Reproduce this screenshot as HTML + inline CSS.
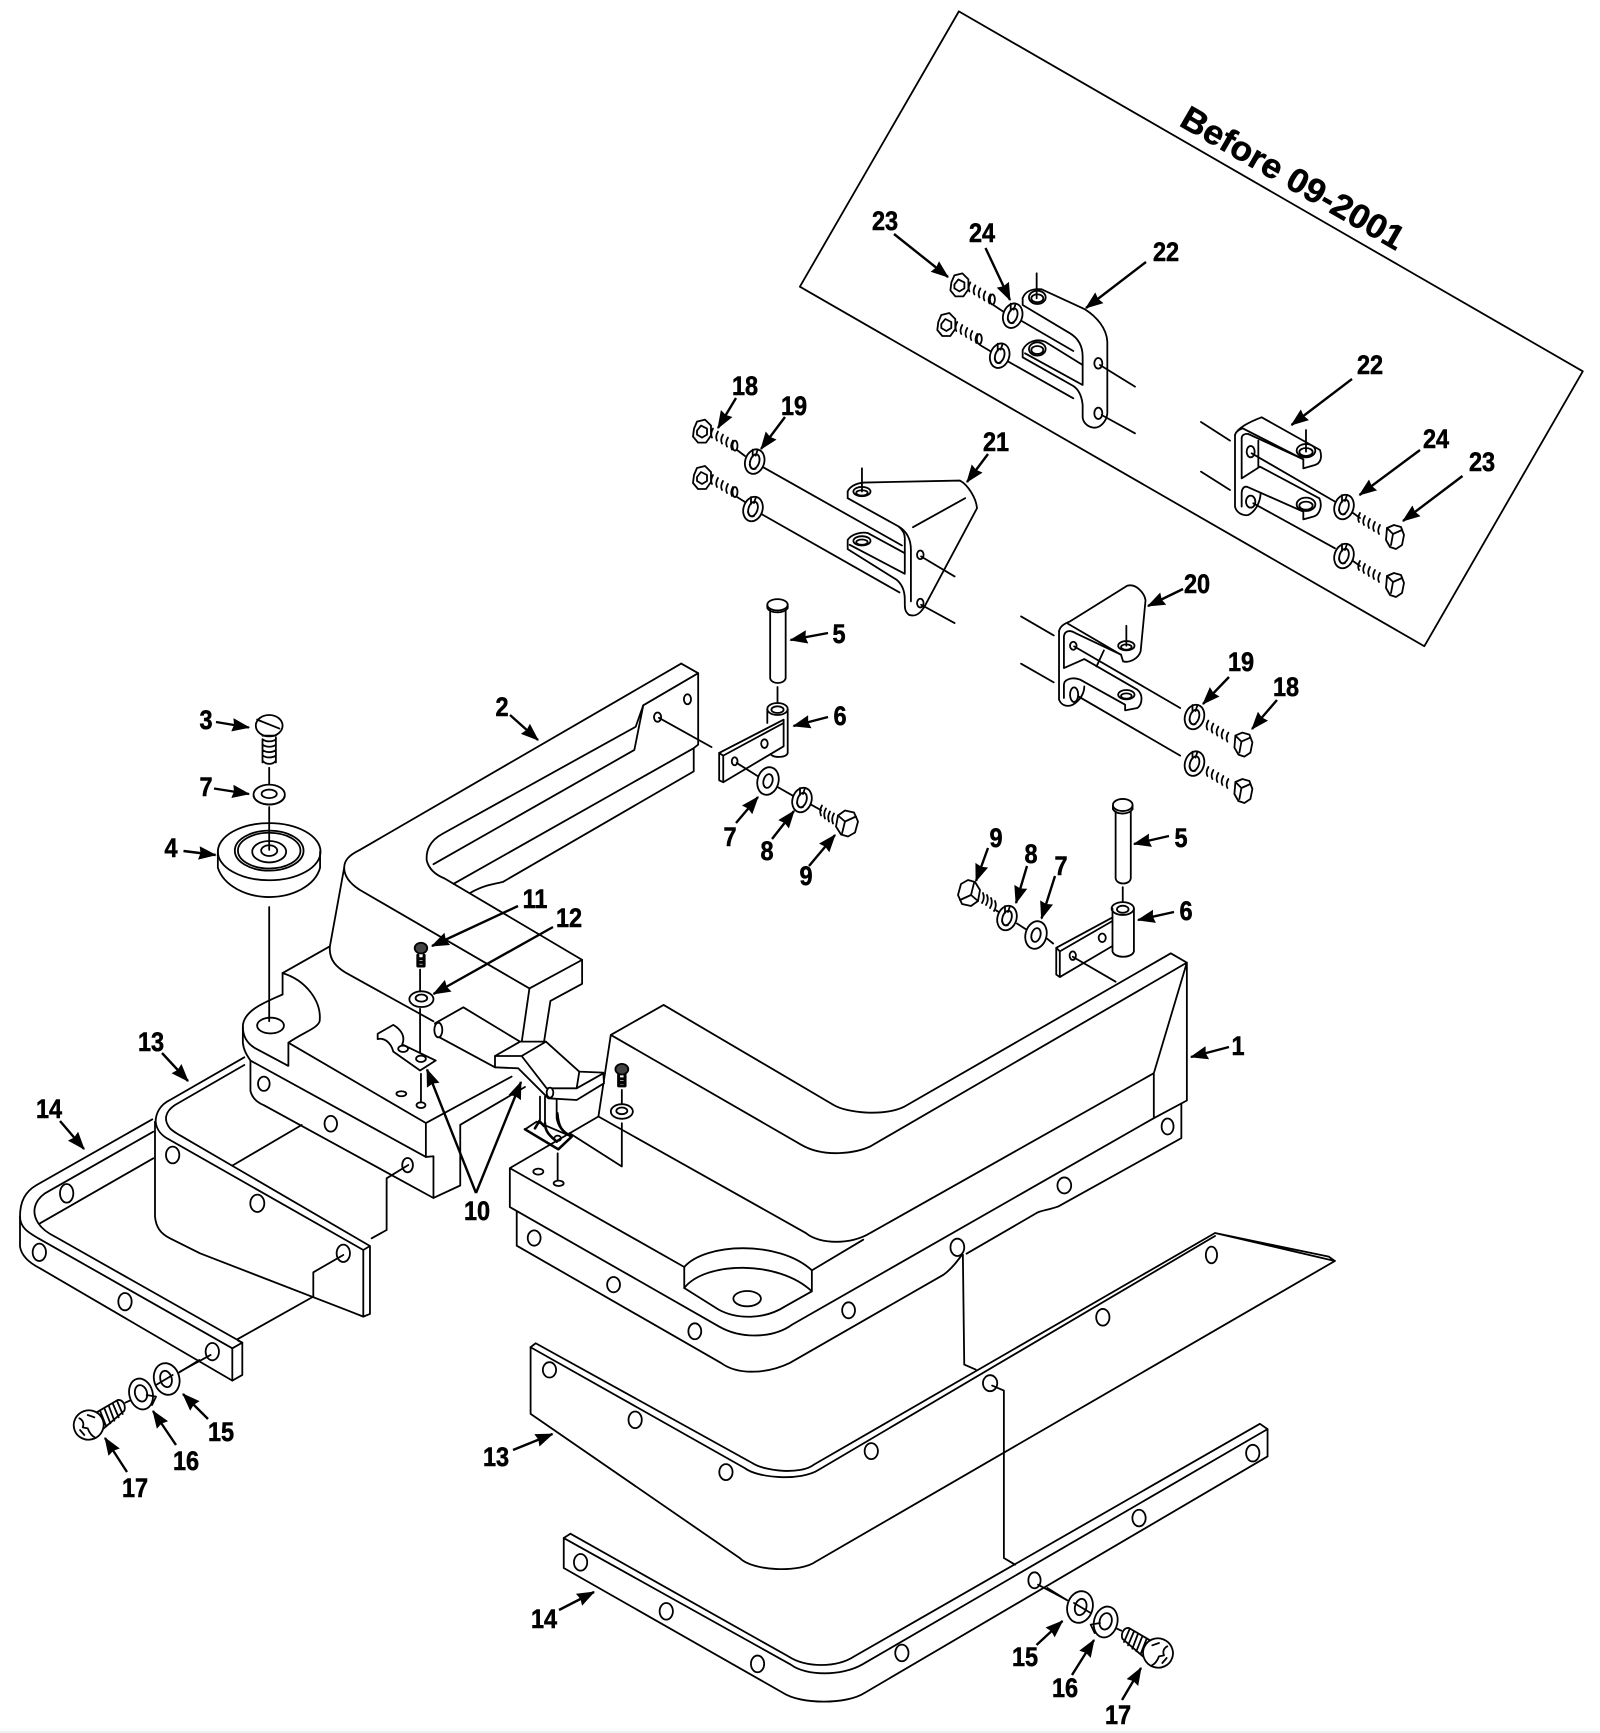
<!DOCTYPE html>
<html><head><meta charset="utf-8"><style>
html,body{margin:0;padding:0;background:#fff}
svg{display:block}
svg *{vector-effect:non-scaling-stroke}
.d{fill:none;stroke:#000;stroke-width:1.8;stroke-linejoin:round;stroke-linecap:round}
.w{fill:#fff}
.k{fill:#444}
.a{fill:none;stroke:#000;stroke-width:2.4;stroke-linecap:butt;marker-end:url(#h)}
text{font-family:"Liberation Sans",sans-serif;font-weight:bold;font-size:27px;text-anchor:middle;fill:#000;stroke:#000;stroke-width:.5}
</style></head><body>
<svg width="1600" height="1733" viewBox="0 0 1600 1733" xmlns="http://www.w3.org/2000/svg">
<defs>
<marker id="h" markerUnits="userSpaceOnUse" markerWidth="18" markerHeight="14" refX="15" refY="6" orient="auto" viewBox="0 0 16 12"><path d="M0,0L16,6L0,12L1.5,6Z" fill="#000"/></marker>
<g id="bL"><path class="w" d="M-8,-3L-5,-10L3,-12L9,-6L9,4L4,11L-4,11L-9,5Z"/><path d="M-5,-1L-1,-6L5,-3L5,3L0,6L-5,3Z"/><path d="M11,-3q-3,5 -1,9M16,0q-3,5 -1,9M21,3q-3,5 -1,9M26,6q-3,5 -1,9M31,9q-3,5 -1,9"/><ellipse cx="33" cy="14" rx="2.5" ry="5"/></g>
<g id="bR"><path d="M-35,-24q-3,5 -1,9M-30,-21q-3,5 -1,9M-25,-18q-3,5 -1,9M-20,-15q-3,5 -1,9M-15,-12q-3,5 -1,9"/><path class="w" d="M-8,-9L-1,-12L6,-10L9,-2L7,8L1,12L-5,10L-9,3Z"/><path d="M-8,-9L-2,-3L-4,8M-2,-3L7,-7"/></g>
<g id="bB"><path d="M-25,-18q-3,5 -1,10M-21,-15q-3,5 -1,10M-17,-12q-3,5 -1,10M-13,-10q-3,5 -1,10"/><path class="w" d="M-9,-8L-2,-13L7,-11L11,-2L8,9L1,13L-6,11L-11,3Z"/><path d="M-9,-8L-2,-2L-5,10M-2,-2L9,-7"/></g>
<g id="lock"><ellipse class="w" rx="9.5" ry="12.5" transform="rotate(18)"/><ellipse rx="4.5" ry="7.5" transform="rotate(18)"/><path d="M-2,-12L-2,-5M3,-12L1,-6M-5,3q2,6 6,4"/></g>
<g id="flat"><ellipse class="w" rx="10.5" ry="14" transform="rotate(15)"/><ellipse rx="4.5" ry="7" transform="rotate(15)"/></g>
<g id="scr"><g transform="translate(-88,-255)">
<path d="M198,188L215,180M360,97L420,60"/>
<path class="w" d="M110,218L175,180C190,178 200,195 195,212L130,268Z"/>
<path d="M122,212L140,258M135,205L153,250M148,197L165,242M160,190L178,232M173,183L190,222"/>
<ellipse class="w" cx="88" cy="255" rx="45" ry="44" transform="rotate(-20 88 255)"/>
<path d="M60,235C70,240 75,250 70,262L85,265C90,280 100,290 108,293M62,270L75,285M85,225L105,232"/>
<ellipse class="w" cx="245" cy="162" rx="35" ry="47" transform="rotate(-15 245 162)"/>
<ellipse cx="245" cy="160" rx="18" ry="25" transform="rotate(-15 245 160)"/>
<path d="M262,165L290,170L278,195"/>
<ellipse class="w" cx="322" cy="117" rx="38" ry="48" transform="rotate(-15 322 117)"/>
<ellipse cx="320" cy="117" rx="17" ry="25" transform="rotate(-15 320 117)"/>
<path d="M290,135L340,105"/>
</g></g>
</defs>
<rect width="1600" height="1733" fill="#fff"/>
<rect y="1731" width="1600" height="2" fill="#f0f0f0"/>
<g class="d">

<!-- inset frame -->
<g transform="translate(780,0) scale(.523,.421)">
<path d="M342,27L1535,882L1232,1535L38,681Z"/>
</g>
<!-- bracket 22 left -->
<g transform="translate(930,270) scale(.3333)">
<path d="M278,85C285,65 305,55 335,58L465,118C500,140 530,175 532,215L532,430C530,455 510,475 490,473C470,470 458,455 458,440L458,405C455,375 445,358 430,348L278,262L278,240C290,215 320,205 345,215L458,285"/>
<path d="M278,85L278,105L420,190C445,205 458,230 458,260L458,345L285,250"/>
<path d="M270,150L430,243M230,272L430,385M510,285L615,350M515,435L615,490M320,10L320,85M190,105L220,125M150,225L180,243"/>
<ellipse cx="322" cy="82" rx="25" ry="20"/><ellipse cx="322" cy="85" rx="18" ry="12"/>
<ellipse cx="322" cy="237" rx="25" ry="20"/><ellipse cx="322" cy="240" rx="18" ry="12"/>
<ellipse cx="505" cy="280" rx="12" ry="16"/><ellipse cx="505" cy="430" rx="12" ry="17"/>
</g>
<!-- bracket 22 right -->
<g transform="translate(1220,410) scale(.3333)">
<path d="M125,22L300,120C308,145 300,160 285,165L250,175L250,148L68,55C55,60 47,66 45,75C50,55 90,35 125,22"/>
<path d="M45,75L45,290C50,310 70,318 85,315C105,305 120,280 122,250"/>
<path d="M65,205L65,85C65,75 75,70 85,72L250,148M65,205L120,170L298,265C308,285 300,315 280,320L250,328L250,305L85,232C70,225 65,240 65,250L65,290M115,92L115,172"/>
<path d="M95,130L345,275M100,280L345,415M258,60L258,125M-57,36L30,92M-57,185L30,240"/>
<ellipse cx="258" cy="122" rx="28" ry="20"/><ellipse cx="258" cy="126" rx="20" ry="12"/>
<ellipse cx="258" cy="283" rx="28" ry="20"/><ellipse cx="258" cy="287" rx="20" ry="12"/>
<ellipse cx="92" cy="125" rx="12" ry="17"/><ellipse cx="92" cy="275" rx="14" ry="18"/>
</g>
<use href="#bL" x="959.4" y="285.4"/><use href="#lock" x="1012.7" y="315.7"/>
<use href="#bL" x="946.3" y="325"/><use href="#lock" x="999.7" y="355.7"/>
<use href="#lock" x="1344" y="507"/><use href="#bR" x="1395" y="537"/>
<use href="#lock" x="1344" y="556"/><use href="#bR" x="1395" y="585"/>
<path d="M1353,513L1360,518M1353,561L1360,566"/>

<!-- brackets 21 / 20, pin, hinge upper -->
<g transform="translate(660,370) scale(.408,.333)">
<path d="M460,365C465,350 480,340 500,338L735,332C755,345 775,385 777,415L655,695C640,735 625,742 610,735C600,725 600,715 600,700L600,690C600,665 595,645 580,630L460,538L460,510C470,492 495,485 510,490L600,550"/>
<path d="M460,365L460,385L585,470C605,485 615,510 615,540L615,695"/>
<path d="M600,505L600,612L465,525M585,470C595,480 600,490 600,505"/>
<path d="M620,472L748,385M495,295L495,365M640,560L722,620M640,705L722,760"/>
<path d="M250,290L593,527M245,430L587,668"/>
<ellipse cx="495" cy="365" rx="21" ry="14"/><ellipse cx="495" cy="369" rx="14" ry="8"/>
<ellipse cx="495" cy="513" rx="21" ry="14"/><ellipse cx="495" cy="517" rx="14" ry="8"/>
<ellipse cx="638" cy="555" rx="8" ry="13"/><ellipse cx="638" cy="700" rx="8" ry="13"/>
<path d="M978,785C980,770 990,762 1005,755L1145,648C1168,640 1188,672 1190,692L1178,845C1172,868 1150,880 1135,875L1130,855L1000,762"/>
<path d="M978,785L978,990C985,1010 1000,1012 1012,1005C1030,992 1040,970 1040,950"/>
<path d="M990,895L990,800C992,782 1005,780 1018,790L1130,855M990,895L1040,868L1170,960C1185,975 1182,1005 1170,1015L1140,1022L1140,1005L1030,930C1010,920 990,930 990,945L990,985"/>
<path d="M1143,768L1143,828M1088,842L1070,890M885,740L965,797M885,882L965,938M1015,830L1275,1015M1025,980L1275,1158"/>
<ellipse cx="1143" cy="828" rx="20" ry="14"/><ellipse cx="1143" cy="832" rx="13" ry="8"/>
<ellipse cx="1143" cy="975" rx="20" ry="14"/><ellipse cx="1143" cy="979" rx="13" ry="8"/>
<ellipse cx="1013" cy="828" rx="8" ry="12"/><ellipse cx="1015" cy="975" rx="10" ry="22"/>
<path class="w" d="M270,722L270,925C272,945 305,945 308,925L308,722"/>
<ellipse class="w" cx="288" cy="705" rx="25" ry="17"/><path d="M263,705L263,715C270,732 305,732 313,715L313,705"/>
<path d="M288,952L288,1000"/>
<path d="M263,1018L263,1060M313,1018L313,1150C310,1165 280,1165 272,1155"/>
<ellipse cx="288" cy="1018" rx="25" ry="18"/><ellipse cx="288" cy="1020" rx="15" ry="10"/>
<path class="w" d="M145,1150L303,1050L303,1130L155,1238L145,1232Z"/><path d="M145,1150L155,1158L303,1060M155,1158L155,1238"/>
<ellipse cx="183" cy="1175" rx="7" ry="12"/><ellipse cx="256" cy="1122" rx="8" ry="13"/>
<path d="M188,1180L240,1220M285,1250L325,1278M370,1305L395,1322"/>
</g>
<use href="#bL" x="702" y="431.6"/><use href="#lock" x="754.7" y="461.6"/>
<use href="#bL" x="702" y="478"/><use href="#lock" x="753" y="509"/>
<path d="M737,450L745,456M737,497L745,502"/>
<use href="#lock" x="1194.5" y="717"/><use href="#bR" x="1243.4" y="744.6"/>
<use href="#lock" x="1194.5" y="763.6"/><use href="#bR" x="1243.4" y="791"/>
<use href="#flat" x="768" y="781"/><use href="#lock" x="802" y="800"/><use href="#bB" x="847" y="823.5"/>

<!-- Part 2 -->
<g transform="translate(150,650) scale(.4464,.357)">
<path d="M1190,38L1228,65L1228,265L1218,275L1218,340L790,650C770,655 745,660 718,680"/>
<path d="M1190,38L470,560C445,575 435,590 435,610C435,640 455,660 470,672L850,948L968,868L968,935L897,983L883,1095"/>
<path d="M1228,65L1105,155L1088,215L655,515C625,535 618,565 620,590C625,615 640,630 660,640L968,868"/>
<path d="M1105,155L1085,280L635,600M1218,275L680,655M850,948L833,1095"/>
<ellipse cx="1137" cy="188" rx="8" ry="13"/><ellipse cx="1204" cy="138" rx="8" ry="14"/>
<path d="M1140,190L1258,272"/>
<path d="M435,610L403,830C400,870 420,890 440,905L635,1040M403,830L297,905L297,965"/>
<path d="M297,905C350,925 385,985 380,1040C375,1060 345,1070 310,1100L310,1165L235,1115C215,1100 208,1080 208,1055C208,1010 260,985 297,965"/>
<path d="M208,1055L208,1100C210,1125 220,1140 225,1150L618,1420L635,1418L635,1535L695,1500L695,1330L840,1224"/>
<path d="M310,1100L618,1325L618,1420M618,1325L810,1195"/>
<path d="M225,1150L225,1235C230,1260 245,1270 255,1275L635,1535"/>
<ellipse cx="255" cy="1215" rx="13" ry="20"/><ellipse cx="405" cy="1327" rx="14" ry="22"/><ellipse cx="577" cy="1443" rx="12" ry="20"/>
<ellipse cx="270" cy="1052" rx="30" ry="22"/>
<path d="M267,720L267,1040"/>
<ellipse cx="563" cy="1243" rx="11" ry="7"/><ellipse cx="607" cy="1275" rx="10" ry="8"/>
<path d="M152,565L152,610C165,660 215,692 267,692C320,692 370,660 381,610L381,565"/>
<ellipse cx="267" cy="565" rx="115" ry="80"/>
<ellipse cx="267" cy="562" rx="77" ry="56"/><ellipse cx="267" cy="562" rx="70" ry="50"/><ellipse cx="267" cy="565" rx="38" ry="30"/><ellipse cx="267" cy="562" rx="18" ry="15"/>
<path d="M267,330L267,390M267,440L267,560"/>
<ellipse class="w" cx="267" cy="212" rx="30" ry="30"/><path d="M240,195L290,220M252,240L282,240"/>
<path d="M252,250C260,258 275,258 282,250M252,265C260,273 275,273 282,265M252,280C260,288 275,288 282,280M252,295C260,303 275,303 282,295M252,310C260,322 275,322 282,310M252,250L252,315M282,245L282,315"/>
<ellipse class="w" cx="267" cy="405" rx="35" ry="28"/><ellipse cx="267" cy="403" rx="17" ry="12"/><path d="M232,410C240,440 295,440 302,410"/>
<path d="M605,895L605,960M605,1005L605,1130M607,1187L607,1265"/>
<ellipse class="k" cx="607" cy="835" rx="14" ry="15"/>
<path stroke-width="3" d="M600,855L600,885L614,885L614,855M600,865L614,865M600,875L614,875"/>
<ellipse class="w" cx="608" cy="978" rx="27" ry="22"/><ellipse cx="608" cy="975" rx="13" ry="10"/>
<path class="w" d="M510,1075L545,1050C565,1065 572,1085 565,1105L640,1150L605,1178L545,1125C540,1100 525,1085 510,1090Z"/>
<ellipse cx="567" cy="1117" rx="11" ry="9"/><ellipse cx="607" cy="1145" rx="11" ry="9"/>
</g>

<!-- Part 1 -->
<g transform="translate(480,950) scale(.459,.333)">
<path d="M285,255L400,165L770,465C800,490 880,500 925,470L1505,10L1540,38L850,590C820,610 750,625 700,585L285,255L258,500L710,850C740,885 810,885 850,850L1468,370L1540,38L1540,452L1468,505L1468,370"/>
<path d="M258,500L65,655L445,952L445,1015M65,655L65,772L520,1130C570,1170 640,1165 680,1125L1468,505"/>
<path d="M1528,462L1528,565L1260,770C1240,780 1225,782 1215,788L1060,912"/>
<path d="M80,785L80,888L525,1240C565,1280 630,1270 675,1240L1010,975C1025,960 1040,935 1050,915"/>
<path d="M445,952C490,880 650,870 723,962L723,1025M445,1015C490,935 650,930 723,1025M445,1015L520,1080C560,1110 620,1110 665,1070L723,1025M723,962L835,870"/>
<ellipse cx="582" cy="1047" rx="30" ry="23"/>
<path d="M195,550L309,650L309,520M309,420L309,460M1052,915L1055,1245L1080,1260"/>
<ellipse cx="118" cy="865" rx="14" ry="23"/><ellipse cx="291" cy="1005" rx="14" ry="23"/><ellipse cx="468" cy="1145" rx="14" ry="24"/><ellipse cx="803" cy="1082" rx="14" ry="24"/><ellipse cx="1040" cy="893" rx="15" ry="26"/><ellipse cx="1273" cy="707" rx="15" ry="24"/><ellipse cx="1498" cy="530" rx="13" ry="24"/>
<ellipse class="k" cx="309" cy="358" rx="14" ry="16"/>
<path stroke-width="3" d="M302,375L302,408L316,408L316,375M302,387L316,387M302,398L316,398"/>
<ellipse class="w" cx="309" cy="485" rx="24" ry="22"/><ellipse cx="309" cy="483" rx="12" ry="10"/>
</g>

<!-- Latch and lower clip -->
<g transform="translate(420,990) scale(.3333)">
<path d="M360,320L360,390M375,320L375,400C375,430 400,445 410,455M410,330L410,385C415,410 425,425 455,440"/>
<path d="M315,418L350,395L455,440L415,478Z"/>
<path stroke-width="2.6" d="M345,415L358,393L372,408M375,400C375,430 400,445 410,455M412,370C415,410 425,425 455,440M315,418L415,478L455,440"/>
<ellipse cx="413" cy="445" rx="10" ry="8"/>
<path d="M413,490L413,570"/><ellipse cx="416" cy="580" rx="15" ry="8"/><ellipse cx="355" cy="545" rx="15" ry="9"/>
<path class="w" d="M45,100L130,52L300,155L378,155L478,245L550,248L552,280L470,330L385,325L295,235L225,232L55,140Z"/>
<ellipse class="w" cx="55" cy="120" rx="12" ry="22"/>
<path d="M225,198L305,198L380,295L470,295L478,245M225,198L300,155M305,198L378,155M470,295L550,250"/>
<ellipse class="w" cx="390" cy="308" rx="10" ry="15"/>
<path d="M225,198L225,232"/>
</g>

<!-- Right hinge -->
<g transform="translate(900,780) scale(.4464,.357)">
<ellipse class="w" cx="499" cy="70" rx="22" ry="17"/><path d="M477,72L477,82C485,98 512,98 521,82L521,72M483,88L483,275C485,295 515,295 517,275L517,88"/>
<path d="M499,300L499,340"/>
<path d="M476,360L476,480C480,500 520,500 524,480L524,360"/>
<ellipse cx="499" cy="360" rx="25" ry="18"/><ellipse cx="499" cy="362" rx="13" ry="10"/>
<path d="M350,470L476,385M476,395L358,480L358,552L350,545L350,470L358,480M358,552L476,465"/>
<ellipse cx="387" cy="492" rx="7" ry="12"/><ellipse cx="453" cy="442" rx="8" ry="12"/>
<path d="M387,495L483,565M215,365L228,375M262,402L282,418M325,440L343,458"/>
</g>
<use href="#bB" transform="translate(969,893) rotate(180)"/>
<use href="#lock" x="1007" y="918"/><use href="#flat" x="1036" y="935"/>

<!-- Lower 13 and 14 -->
<g transform="translate(500,1240) scale(.51,.333)">
<path d="M60,322L70,310L495,670C520,695 590,705 615,675L1402,-21L1637,63L1625,50L1402,-21"/>
<path d="M60,322L480,685C505,715 590,725 625,690L1402,-12"/>
<path d="M60,322L60,522L470,955C495,995 590,1000 620,965L1637,63"/>
<ellipse cx="97" cy="390" rx="13" ry="23"/><ellipse cx="265" cy="540" rx="13" ry="25"/><ellipse cx="443" cy="697" rx="13" ry="24"/><ellipse cx="728" cy="634" rx="13" ry="24"/><ellipse cx="961" cy="430" rx="14" ry="24"/><ellipse cx="1182" cy="232" rx="13" ry="25"/><ellipse cx="1395" cy="45" rx="11" ry="25"/>
<path d="M965,437L988,452L988,955L1010,975"/>
<path d="M125,895L138,882L565,1250C600,1285 660,1285 695,1250L1490,552L1505,568L1505,650L715,1360C680,1395 590,1395 555,1360L125,985Z"/>
<path d="M125,895L570,1275C600,1310 670,1310 710,1275L1505,568"/>
<ellipse cx="158" cy="968" rx="13" ry="25"/><ellipse cx="326" cy="1115" rx="13" ry="25"/><ellipse cx="505" cy="1273" rx="13" ry="25"/><ellipse cx="788" cy="1240" rx="13" ry="25"/><ellipse cx="1048" cy="1022" rx="12" ry="24"/><ellipse cx="1253" cy="835" rx="13" ry="25"/><ellipse cx="1476" cy="640" rx="13" ry="25"/>
<path d="M1055,1035L1110,1080"/>
</g>
<use href="#scr" transform="translate(1158,1653) scale(-.3333,.3333)"/>

<!-- Left assembly -->
<g transform="translate(0,1020) scale(.3333)">
<path d="M733,112L510,240C480,255 467,280 467,305C470,335 490,350 510,360L1090,690"/>
<path d="M733,135L525,255C495,275 490,300 510,325C520,335 530,340 540,346L1110,678L1090,690L1090,890L1110,882L1110,678"/>
<path d="M465,305L465,590C468,620 480,640 510,655L600,700C700,740 900,815 1090,890"/>
<ellipse cx="518" cy="405" rx="20" ry="25"/><ellipse cx="772" cy="550" rx="21" ry="26"/><ellipse cx="1030" cy="700" rx="20" ry="26"/>
<path d="M697,437L905,315M1030,705L940,757L940,830L712,958M1225,435L1160,475L1160,630L1115,655"/>
<path d="M457,298L110,495C75,515 60,545 60,590C60,625 90,640 115,655L697,985L727,968L715,962"/>
<path d="M460,335L135,520C100,545 95,580 115,610C125,625 145,640 165,650L727,968L727,1065L697,1082L697,985"/>
<path d="M60,590L60,680C65,710 90,730 120,745L697,1082M460,415L120,610"/>
<ellipse cx="200" cy="520" rx="20" ry="28"/><ellipse cx="118" cy="697" rx="20" ry="26"/><ellipse cx="375" cy="845" rx="20" ry="26"/><ellipse cx="637" cy="995" rx="20" ry="26"/>
<path d="M632,1005L540,1055"/>
</g>
<use href="#scr" transform="translate(88.7,1425) scale(.3333)"/>

<!-- Arrows -->
<path class="a" d="M894,234L948,277"/><path class="a" d="M985.5,248L1010,300"/><path class="a" d="M1146,262L1086,308"/>
<path class="a" d="M1352,379L1291.5,425"/><path class="a" d="M1420,450L1359.5,495"/><path class="a" d="M1462.5,476L1403,521"/>
<path class="a" d="M988,454L967,482"/><path class="a" d="M1183,589L1148,606"/>
<path class="a" d="M736,398L718,428"/><path class="a" d="M785,417L761,449"/>
<path class="a" d="M828,633L790.5,640"/><path class="a" d="M828,717L793.5,726"/>
<path class="a" d="M1229,677L1203,704"/><path class="a" d="M1277,700L1252,729"/>
<path class="a" d="M736,823L758,797"/><path class="a" d="M772,839L794,811"/><path class="a" d="M809,866L835,835"/>
<path class="a" d="M510,715L538,740"/><path class="a" d="M216,722L249,727.5"/><path class="a" d="M214,788.5L249,794"/><path class="a" d="M183.5,851L215.6,855"/>
<path class="a" d="M518,906L432,946"/><path class="a" d="M553,927L433.5,994"/>
<path class="a" d="M476,1193L427,1069.5"/><path class="a" d="M476,1193L521,1082"/>
<path class="a" d="M162,1053L188,1081"/><path class="a" d="M60,1121L84,1149"/>
<path class="a" d="M208,1419L183,1394"/><path class="a" d="M176,1445L153,1411"/><path class="a" d="M127,1472L105,1438"/>
<path class="a" d="M988,848L976,881"/><path class="a" d="M1027,866L1016,903"/><path class="a" d="M1055,876L1041.5,918.5"/>
<path class="a" d="M1169,836L1134,844"/><path class="a" d="M1174,912L1138,920"/><path class="a" d="M1229,1047L1191,1057"/>
<path class="a" d="M513,1450L552.5,1434"/><path class="a" d="M559,1610L594,1592"/>
<path class="a" d="M1036.5,1645L1062.5,1621"/><path class="a" d="M1072,1675L1094,1640"/><path class="a" d="M1122,1700L1141,1668"/>
</g>

<!-- Labels -->
<text transform="translate(1178,125) rotate(30)" style="font-size:34px;text-anchor:start" textLength="252" lengthAdjust="spacingAndGlyphs">Before 09-2001</text>
<g transform="translate(0,-1)">
<text transform="translate(1166 262) scale(.87 1)">22</text>
<text transform="translate(885 231) scale(.87 1)">23</text>
<text transform="translate(982 243) scale(.87 1)">24</text>
<text transform="translate(1370 375) scale(.87 1)">22</text>
<text transform="translate(1436 449) scale(.87 1)">24</text>
<text transform="translate(1482 472) scale(.87 1)">23</text>
<text transform="translate(745 396) scale(.87 1)">18</text>
<text transform="translate(794 416) scale(.87 1)">19</text>
<text transform="translate(996 452) scale(.87 1)">21</text>
<text transform="translate(1197 594) scale(.87 1)">20</text>
<text transform="translate(839 644) scale(.87 1)">5</text>
<text transform="translate(840 726) scale(.87 1)">6</text>
<text transform="translate(1241 672) scale(.87 1)">19</text>
<text transform="translate(1286 697) scale(.87 1)">18</text>
<text transform="translate(502 717) scale(.87 1)">2</text>
<text transform="translate(206 730) scale(.87 1)">3</text>
<text transform="translate(206 797) scale(.87 1)">7</text>
<text transform="translate(171 858) scale(.87 1)">4</text>
<text transform="translate(730 847) scale(.87 1)">7</text>
<text transform="translate(767 861) scale(.87 1)">8</text>
<text transform="translate(806 886) scale(.87 1)">9</text>
<text transform="translate(996 848) scale(.87 1)">9</text>
<text transform="translate(1031 864) scale(.87 1)">8</text>
<text transform="translate(1061 876) scale(.87 1)">7</text>
<text transform="translate(1181 848) scale(.87 1)">5</text>
<text transform="translate(1186 921) scale(.87 1)">6</text>
<text transform="translate(1238 1056) scale(.87 1)">1</text>
<text transform="translate(535 909) scale(.87 1)">11</text>
<text transform="translate(569 928) scale(.87 1)">12</text>
<text transform="translate(151 1052) scale(.87 1)">13</text>
<text transform="translate(49 1119) scale(.87 1)">14</text>
<text transform="translate(477 1221) scale(.87 1)">10</text>
<text transform="translate(221 1442) scale(.87 1)">15</text>
<text transform="translate(186 1471) scale(.87 1)">16</text>
<text transform="translate(135 1498) scale(.87 1)">17</text>
<text transform="translate(496 1467) scale(.87 1)">13</text>
<text transform="translate(544 1629) scale(.87 1)">14</text>
<text transform="translate(1025 1667) scale(.87 1)">15</text>
<text transform="translate(1065 1698) scale(.87 1)">16</text>
<text transform="translate(1118 1725) scale(.87 1)">17</text>
</g>
</svg>
</body></html>
